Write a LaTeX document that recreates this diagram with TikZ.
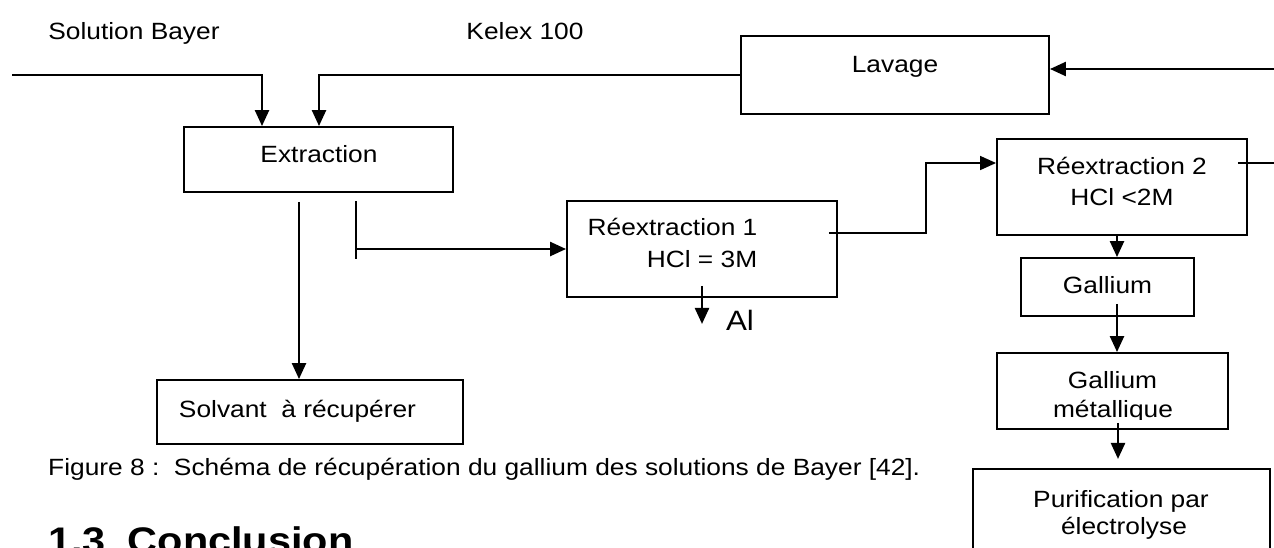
\documentclass[tikz,border=0pt]{standalone}
\usepackage{fontspec}
\setmainfont{Liberation Sans}[FakeStretch=1.12]
\usetikzlibrary{arrows.meta,calc}
\begin{document}
\begin{tikzpicture}[x=1pt,y=-1pt,
 box/.style={draw,line width=1.9pt,inner sep=0pt,rectangle},
 lbl/.style={anchor=base,inner sep=0pt,font=\fontsize{23.5pt}{28pt}\selectfont},
 flow/.style={line width=2.4pt,line join=miter,-{Triangle[length=16pt,width=14pt]}},
 thinflow/.style={line width=1.6pt,-{Triangle[length=16pt,width=14pt]}},
 thinline/.style={line width=1.6pt}]
\useasboundingbox (0,0) rectangle (1274,547);
\clip (0,0) rectangle (1274,547);
% boxes
\node[box,minimum width=269pt,minimum height=65pt] (ext) at (318.5,159.5) {};
\node[box,minimum width=308pt,minimum height=78pt] (lav) at (895,75) {};
\node[box,minimum width=306pt,minimum height=64pt] (solv) at (310,412) {};
\node[box,minimum width=270pt,minimum height=96pt] (r1) at (702,249) {};
\node[box,minimum width=250pt,minimum height=96pt] (r2) at (1122,187) {};
\node[box,minimum width=173pt,minimum height=58pt] (gal) at (1107.5,287) {};
\node[box,minimum width=231pt,minimum height=76pt] (met) at (1112.5,391) {};
\node[box,minimum width=297pt,minimum height=100pt] (pur) at (1121.5,519) {};
% texts
\node[lbl] (tsb) at (134,39) {Solution Bayer};
\node[lbl] (tkx) at (525,39) {Kelex 100};
\node[lbl] (tlav) at (895,72) {Lavage};
\node[lbl] (text) at (319,162) {Extraction};
\node[lbl] (tr1a) at (672.5,235) {Réextraction 1};
\node[lbl] (tr1b) at (702,267) {HCl = 3M};
\node[lbl,font=\fontsize{28pt}{32pt}\selectfont] (tal) at (740,330) {Al};
\node[lbl] (tr2a) at (1122,174) {Réextraction 2};
\node[lbl] (tr2b) at (1122,205) {HCl <2M};
\node[lbl] (tsolv) at (297.5,417) {Solvant\ \ à récupérer};
\node[lbl] (tgal) at (1107.5,293) {Gallium};
\node[lbl] (tmet1) at (1112.5,388) {Gallium};
\begin{scope}
\clip (997,353) rectangle (1228,419);
\node[lbl] (tmet2) at (1113,417) {métallique};
\end{scope}
\node[lbl] (tpur1) at (1121,507) {Purification par};
\node[lbl] (tpur2) at (1124,534) {électrolyse};
\node[lbl,anchor=base west] (cap) at (48,475) {Figure 8 :\ \ Schéma de récupération du gallium des solutions de Bayer [42].};
\node[lbl,anchor=base west,font=\fontsize{37pt}{40pt}\selectfont\bfseries] (concl) at (48,553) {1.3\hspace{22pt}Conclusion};
% connectors
\coordinate (sbin) at (12,75);
\draw[flow] (sbin) -| ([xshift=-56.5pt]ext.north);
\draw[flow] (lav.west) -| ([xshift=0.5pt]ext.north);
\coordinate (rin) at (1274,69);
\draw[flow] (rin) -- (rin -| lav.east);
\draw[flow] ([shift={(-19.5,9)}]ext.south) coordinate (ea) -- (ea |- solv.north);
\coordinate (tk1) at (356,201);
\coordinate (tk2) at (356,259);
\draw[thinline] (tk1) -- (tk2);
\draw[flow] (tk1 |- r1.west) -- (r1.west);
\draw[flow] ([shift={(0,-12)}]r1.south) -- ++(0,38);
\draw[thinflow] ([shift={(-9,-16)}]r1.east) -- ++(97,0) |- ([shift={(0,-24)}]r2.west);
\draw[thinline] ([shift={(-10,-24)}]r2.east) -- ++(37,0);
\draw[flow] ([xshift=-5pt]r2.south) coordinate (ra) -- (ra |- gal.north);
\draw[flow] ([shift={(9.5,-13)}]gal.south) coordinate (ga) -- (ga |- met.north);
\draw[flow] ([shift={(5.5,-7)}]met.south) -- ++(0,36);
\end{tikzpicture}
\end{document}
